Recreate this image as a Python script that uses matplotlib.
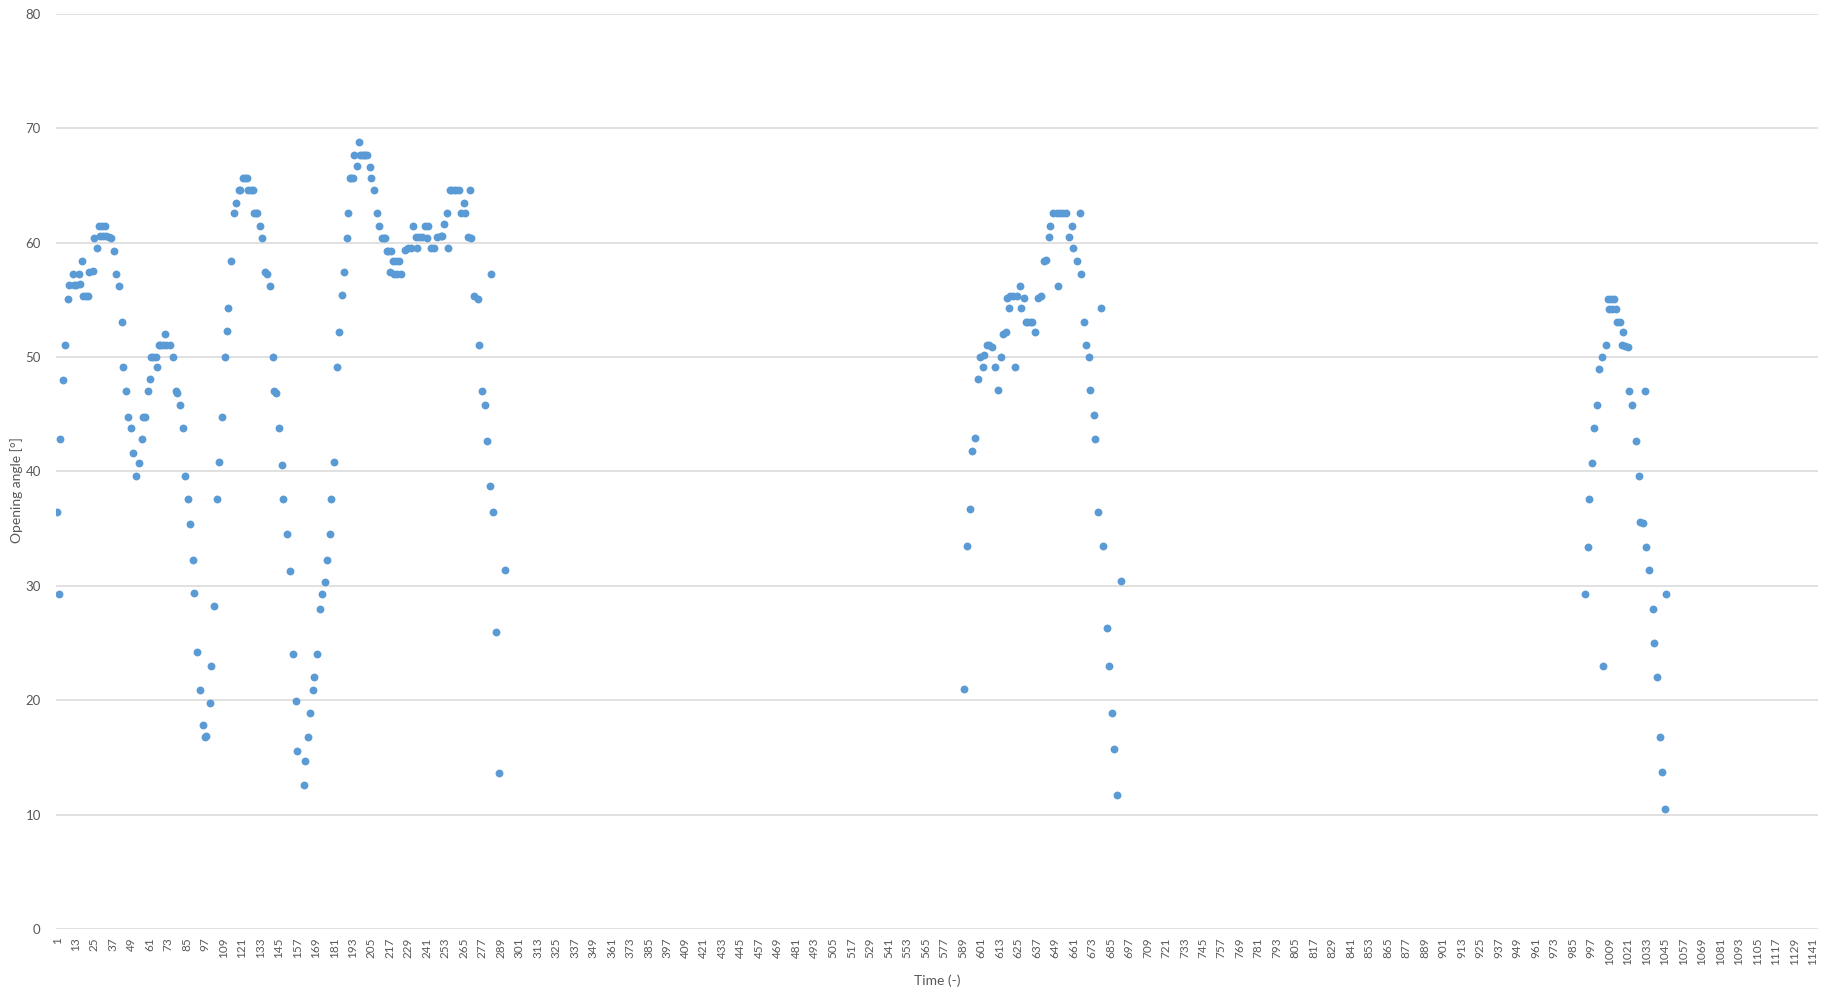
import matplotlib.pyplot as plt

# first burst
time_a = [1, 2, 3, 5, 6, 8, 9, 11, 12, 13, 15, 16, 17, 18, 20, 21, 22, 24, 25, 27,
          28, 29, 30, 31, 32, 33, 35, 36, 38, 39, 41, 43, 44, 46, 47, 49, 50, 52, 54, 56,
          57, 58, 60, 61, 62, 63, 65, 66, 67, 68, 70, 71, 72, 74, 76, 78, 79, 81, 83, 84,
          86, 87, 89, 90, 92, 94, 96, 97, 98, 100, 101, 103, 105, 106, 108, 110, 111, 112, 114, 116,
          117, 119, 120, 122, 123, 124, 125, 127, 128, 129, 130, 131, 133, 134, 136, 137, 139, 141, 142, 143,
          145, 147, 148, 150, 152, 154, 156, 157, 161, 162, 164, 165, 167, 168, 170, 172, 173, 175, 176, 178,
          179, 181, 183, 184, 186, 187, 189, 190, 191, 192, 193, 194, 196, 197, 198, 199, 200, 201, 202, 204,
          205, 207, 209, 210, 212, 213, 214, 215, 216, 217, 218, 219, 220, 221, 222, 223, 224, 227, 229, 231,
          232, 234, 235, 236, 238, 240, 241, 242, 244, 246, 248, 250, 251, 252, 254, 255, 256, 257, 259, 260,
          262, 263, 265, 266, 268, 269, 270, 272, 274, 275, 277, 279, 280, 282, 283, 284, 286, 288, 292]
angle_a = [36.5, 29.3, 42.8, 48.0, 51.1, 55.1, 56.3, 57.3, 56.3, 56.3, 57.3, 56.4, 58.4, 55.3, 55.3, 55.3, 57.4, 57.5, 60.4, 59.5,
           61.5, 60.6, 61.5, 60.6, 61.5, 60.6, 60.5, 60.4, 59.3, 57.3, 56.2, 53.1, 49.1, 47.0, 44.8, 43.8, 41.6, 39.6, 40.7, 42.8,
           44.8, 44.8, 47.0, 48.1, 50.0, 50.0, 50.0, 49.1, 51.1, 51.1, 51.1, 52.0, 51.1, 51.1, 50.0, 47.0, 46.9, 45.8, 43.8, 39.6,
           37.6, 35.4, 32.3, 29.4, 24.2, 20.9, 17.8, 16.8, 16.9, 19.8, 23.0, 28.2, 37.6, 40.8, 44.8, 50.0, 52.3, 54.3, 58.4, 62.6,
           63.5, 64.6, 64.6, 65.7, 65.7, 65.7, 64.6, 64.6, 64.6, 62.6, 62.6, 62.6, 61.5, 60.4, 57.4, 57.3, 56.2, 50.0, 47.0, 46.9,
           43.8, 40.6, 37.6, 34.5, 31.3, 24.0, 19.9, 15.6, 12.6, 14.7, 16.8, 18.9, 20.9, 22.0, 24.0, 28.0, 29.3, 30.3, 32.3, 34.5,
           37.6, 40.8, 49.1, 52.2, 55.4, 57.4, 60.4, 62.6, 65.7, 65.7, 65.7, 67.7, 66.7, 68.8, 67.7, 67.7, 67.7, 67.7, 67.7, 66.6,
           65.7, 64.6, 62.6, 61.5, 60.4, 60.4, 60.4, 59.3, 59.3, 57.4, 59.3, 58.4, 57.3, 58.4, 57.3, 58.4, 57.3, 59.4, 59.5, 59.5,
           61.5, 60.5, 59.5, 60.5, 60.5, 61.5, 60.4, 61.5, 59.5, 59.5, 60.5, 60.6, 60.6, 61.6, 62.6, 59.5, 64.6, 64.6, 64.6, 64.6,
           64.6, 62.6, 63.5, 62.6, 60.5, 64.6, 60.4, 55.3, 55.1, 51.1, 47.0, 45.8, 42.7, 38.7, 57.3, 36.5, 26.0, 13.6, 31.4]

# second burst
time_b = [590, 592, 594, 595, 597, 599, 600, 602, 603, 605, 606, 608, 610, 612, 614, 615, 617, 618, 619, 620,
          622, 623, 624, 626, 627, 629, 630, 631, 633, 634, 636, 638, 640, 642, 643, 645, 646, 648, 650, 651,
          652, 654, 656, 658, 660, 661, 663, 665, 666, 668, 669, 671, 672, 674, 675, 677, 679, 680, 683, 684,
          686, 687, 689, 692]
angle_b = [21.0, 33.5, 36.7, 41.8, 42.9, 48.1, 50.0, 49.1, 50.2, 51.1, 51.1, 50.9, 49.1, 47.1, 50.0, 52.0, 52.2, 55.2, 54.3, 55.3,
           55.3, 49.1, 55.3, 56.2, 54.3, 55.2, 53.1, 53.1, 53.1, 53.1, 52.2, 55.2, 55.3, 58.4, 58.5, 60.5, 61.5, 62.6, 62.6, 56.2,
           62.6, 62.6, 62.6, 60.5, 61.5, 59.5, 58.4, 62.6, 57.3, 53.1, 51.1, 50.0, 47.1, 44.9, 42.8, 36.5, 54.3, 33.5, 26.3, 23.0,
           18.9, 15.7, 11.7, 30.4]

# third burst
time_c = [993, 995, 996, 998, 999, 1001, 1002, 1004, 1005, 1007, 1008, 1009, 1010, 1011, 1012, 1013, 1014, 1016, 1017, 1018,
          1019, 1021, 1022, 1024, 1026, 1028, 1029, 1031, 1032, 1033, 1035, 1037, 1038, 1040, 1042, 1043, 1045, 1046]
angle_c = [29.3, 33.4, 37.6, 40.7, 43.8, 45.8, 49.0, 50.0, 23.0, 51.1, 55.1, 54.2, 55.1, 54.2, 55.1, 54.2, 53.1, 53.1, 51.1, 52.2,
           51.0, 50.9, 47.0, 45.8, 42.7, 39.6, 35.6, 35.5, 47.0, 33.4, 31.4, 28.0, 25.0, 22.0, 16.8, 13.7, 10.5, 29.3]

n_time = 1144
tick_pos = list(range(1, 1142, 12))
tick_labels = [str(t) for t in tick_pos]

grey = "#595959"
blue = "#5B9BD5"
plt.rcParams["font.family"] = ["Lato", "DejaVu Sans"]

fig = plt.figure(figsize=(18.25, 9.9), dpi=100)
ax = fig.add_axes([0.0307, 0.0616, 0.9655, 0.9243])

for t, a in [(time_a, angle_a), (time_b, angle_b), (time_c, angle_c)]:
    ax.scatter(t, a, s=32, color=blue, linewidths=0, zorder=3)

ax.set_xlim(0.3, n_time + 0.5)
ax.set_ylim(0, 80)
ax.set_yticks(range(0, 81, 10))
ax.set_xticks(tick_pos)
ax.set_xticklabels(tick_labels, rotation=90)
ax.tick_params(axis="x", length=0, pad=6, labelsize=8.5, labelcolor=grey)
ax.tick_params(axis="y", length=0, pad=11, labelsize=9.5, labelcolor=grey)

ax.grid(axis="y", color="#d9d9d9", linewidth=1.1)
ax.grid(axis="x", visible=False)
ax.set_axisbelow(True)
for sp in ax.spines.values():
    sp.set_visible(False)

ax.set_ylabel("Opening angle [°]", fontsize=10, color=grey)
ax.yaxis.set_label_coords(-0.019, 0.48)
ax.set_xlabel("Time (-)", fontsize=10, color=grey)
ax.xaxis.set_label_coords(0.5, -0.05)

fig.savefig("out.png", dpi=100)
